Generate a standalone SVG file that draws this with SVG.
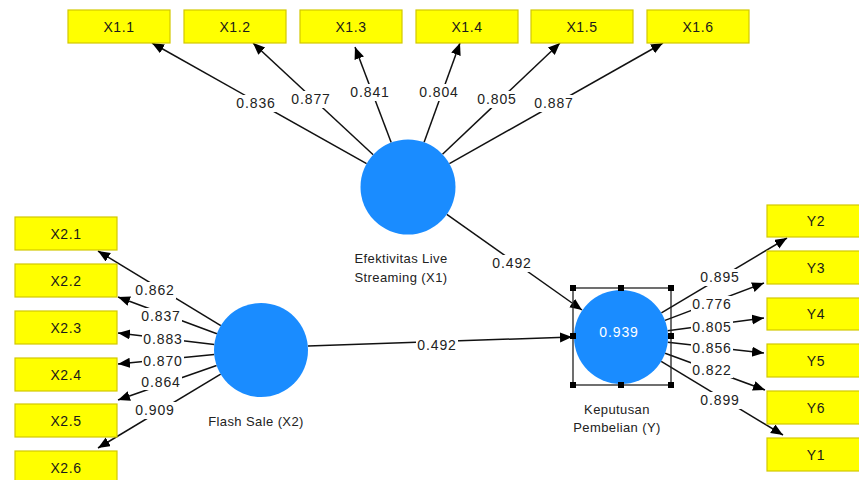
<svg xmlns="http://www.w3.org/2000/svg" width="859" height="480" viewBox="0 0 859 480">
<defs>
<marker id="ah" markerUnits="userSpaceOnUse" markerWidth="13" markerHeight="11" refX="12" refY="5" orient="auto">
<path d="M0,0 L12,5 L0,10 z" fill="#000"/>
</marker>
<style>
.box{fill:#ffff00;stroke:#d2c800;stroke-width:1.2}
.bt{font-family:"Liberation Sans",Arial,sans-serif;font-size:14px;letter-spacing:0.6px;fill:#1a1a1a;text-anchor:middle}
.lv{fill:#1a8cff}
.lt{font-family:"Liberation Sans",Arial,sans-serif;font-size:13px;letter-spacing:0.4px;fill:#222;text-anchor:middle}
.ed{stroke:#111;stroke-width:1.5;fill:none;marker-end:url(#ah)}
.wl{fill:#fff}
.el{font-family:"Liberation Sans",Arial,sans-serif;font-size:14px;letter-spacing:0.9px;fill:#222;text-anchor:middle}
.h{fill:#000}
</style>
</defs>
<rect width="859" height="480" fill="#fff"/>
<g id="connectors">
<line class="ed" x1="366.6" y1="163.7" x2="152" y2="43"/>
<line class="ed" x1="373.2" y1="154.7" x2="253" y2="43"/>
<line class="ed" x1="391.2" y1="142.6" x2="355" y2="47"/>
<line class="ed" x1="424.1" y1="142.3" x2="460" y2="43"/>
<line class="ed" x1="442.5" y1="154.3" x2="560" y2="43"/>
<line class="ed" x1="449.4" y1="163.6" x2="663" y2="43"/>
<line class="ed" x1="446.8" y1="214.4" x2="582" y2="310"/>
<line class="ed" x1="220.8" y1="325.6" x2="98" y2="251"/>
<line class="ed" x1="216.9" y1="333.7" x2="118" y2="297"/>
<line class="ed" x1="214.3" y1="344.5" x2="118" y2="333"/>
<line class="ed" x1="214.2" y1="354.6" x2="118" y2="364"/>
<line class="ed" x1="216.6" y1="365.5" x2="118" y2="400"/>
<line class="ed" x1="220.7" y1="374.2" x2="98" y2="448"/>
<line class="ed" x1="308" y1="346" x2="572" y2="337"/>
<line class="ed" x1="661.4" y1="312.9" x2="787" y2="238"/>
<line class="ed" x1="665" y1="320.4" x2="764" y2="283"/>
<line class="ed" x1="667.6" y1="330.8" x2="764" y2="318"/>
<line class="ed" x1="667.7" y1="342.2" x2="764" y2="353"/>
<line class="ed" x1="665.1" y1="353.2" x2="765" y2="390"/>
<line class="ed" x1="661.2" y1="361.3" x2="783" y2="435"/>
</g>
<g id="edge-labels">
<rect class="wl" x="235" y="95" width="42" height="17"/><text class="el" x="256" y="108">0.836</text>
<rect class="wl" x="290" y="91" width="42" height="17"/><text class="el" x="311" y="104">0.877</text>
<rect class="wl" x="349" y="84" width="42" height="17"/><text class="el" x="370" y="97">0.841</text>
<rect class="wl" x="418" y="84" width="42" height="17"/><text class="el" x="439" y="97">0.804</text>
<rect class="wl" x="476" y="91" width="42" height="17"/><text class="el" x="497" y="104">0.805</text>
<rect class="wl" x="533" y="95" width="42" height="17"/><text class="el" x="554" y="108">0.887</text>
<rect class="wl" x="491" y="255" width="42" height="17"/><text class="el" x="512" y="268">0.492</text>
<rect class="wl" x="416" y="337" width="42" height="17"/><text class="el" x="437" y="350">0.492</text>
<rect class="wl" x="134" y="282" width="42" height="17"/><text class="el" x="155" y="295">0.862</text>
<rect class="wl" x="140" y="308" width="42" height="16"/><text class="el" x="161" y="321">0.837</text>
<rect class="wl" x="142" y="331" width="42" height="16"/><text class="el" x="163" y="344">0.883</text>
<rect class="wl" x="142" y="353" width="42" height="16"/><text class="el" x="163" y="366">0.870</text>
<rect class="wl" x="140" y="374" width="42" height="16"/><text class="el" x="161" y="387">0.864</text>
<rect class="wl" x="134" y="402" width="42" height="17"/><text class="el" x="155" y="415">0.909</text>
<rect class="wl" x="699" y="269" width="42" height="17"/><text class="el" x="720" y="282">0.895</text>
<rect class="wl" x="691" y="296" width="42" height="16"/><text class="el" x="712" y="309">0.776</text>
<rect class="wl" x="691" y="319" width="42" height="16"/><text class="el" x="712" y="332">0.805</text>
<rect class="wl" x="691" y="340" width="42" height="16"/><text class="el" x="712" y="353">0.856</text>
<rect class="wl" x="691" y="362" width="42" height="16"/><text class="el" x="712" y="375">0.822</text>
<rect class="wl" x="699" y="392" width="42" height="17"/><text class="el" x="720" y="405">0.899</text>
</g>
<g id="X1.1"><rect class="box" x="68" y="10" width="102" height="33"/><text class="bt" x="119" y="32">X1.1</text></g>
<g id="X1.2"><rect class="box" x="184" y="10" width="102" height="33"/><text class="bt" x="235" y="32">X1.2</text></g>
<g id="X1.3"><rect class="box" x="300" y="10" width="102" height="33"/><text class="bt" x="351" y="32">X1.3</text></g>
<g id="X1.4"><rect class="box" x="416" y="10" width="102" height="33"/><text class="bt" x="467" y="32">X1.4</text></g>
<g id="X1.5"><rect class="box" x="531" y="10" width="102" height="33"/><text class="bt" x="582" y="32">X1.5</text></g>
<g id="X1.6"><rect class="box" x="647" y="10" width="102" height="33"/><text class="bt" x="698" y="32">X1.6</text></g>
<g id="X2.1"><rect class="box" x="15" y="217" width="102" height="33"/><text class="bt" x="66" y="239">X2.1</text></g>
<g id="X2.2"><rect class="box" x="15" y="264" width="102" height="33"/><text class="bt" x="66" y="286">X2.2</text></g>
<g id="X2.3"><rect class="box" x="15" y="311" width="102" height="33"/><text class="bt" x="66" y="333">X2.3</text></g>
<g id="X2.4"><rect class="box" x="15" y="358" width="102" height="33"/><text class="bt" x="66" y="380">X2.4</text></g>
<g id="X2.5"><rect class="box" x="15" y="404" width="102" height="33"/><text class="bt" x="66" y="426">X2.5</text></g>
<g id="X2.6"><rect class="box" x="15" y="451" width="102" height="33"/><text class="bt" x="66" y="473">X2.6</text></g>
<g id="Y2"><rect class="box" x="767" y="205" width="102" height="32"/><text class="bt" x="816" y="226">Y2</text></g>
<g id="Y3"><rect class="box" x="767" y="251" width="102" height="33"/><text class="bt" x="816" y="273">Y3</text></g>
<g id="Y4"><rect class="box" x="767" y="298" width="102" height="32"/><text class="bt" x="816" y="319">Y4</text></g>
<g id="Y5"><rect class="box" x="767" y="344" width="102" height="33"/><text class="bt" x="816" y="366">Y5</text></g>
<g id="Y6"><rect class="box" x="767" y="391" width="102" height="33"/><text class="bt" x="816" y="413">Y6</text></g>
<g id="Y1"><rect class="box" x="767" y="438" width="102" height="33"/><text class="bt" x="816" y="460">Y1</text></g>
<g id="X1">
<circle class="lv" cx="408" cy="187" r="47.5"/>
<text class="lt" x="401" y="263">Efektivitas Live</text>
<text class="lt" x="401" y="282">Streaming (X1)</text>
</g>
<g id="X2">
<circle class="lv" cx="261" cy="350" r="47"/>
<text class="lt" x="256" y="426">Flash Sale (X2)</text>
</g>
<g id="Y">
<circle class="lv" cx="621" cy="337" r="47"/>
<text x="619" y="337" style="font-family:'Liberation Sans',Arial,sans-serif;font-size:14px;letter-spacing:0.9px;fill:#fff;text-anchor:middle">0.939</text>
<rect x="573" y="288" width="98" height="97" fill="none" stroke="#222" stroke-width="1.3"/>
<rect class="h" x="570" y="285" width="6" height="6"/>
<rect class="h" x="618" y="285" width="6" height="6"/>
<rect class="h" x="668" y="285" width="6" height="6"/>
<rect class="h" x="570" y="333" width="6" height="6"/>
<rect class="h" x="668" y="333" width="6" height="6"/>
<rect class="h" x="570" y="382" width="6" height="6"/>
<rect class="h" x="618" y="382" width="6" height="6"/>
<rect class="h" x="668" y="382" width="6" height="6"/>
<text class="lt" x="617" y="414">Keputusan</text>
<text class="lt" x="617" y="432">Pembelian (Y)</text>
</g>
</svg>
